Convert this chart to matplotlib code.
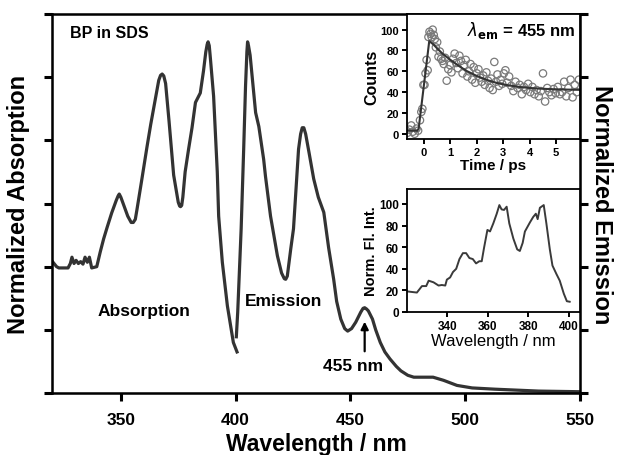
import matplotlib
matplotlib.use("Agg")
from matplotlib import pyplot as plt

plt.rcParams['font.family'] = ['Liberation Sans', 'DejaVu Sans']

# main panel: absorption (320-400 nm) and emission (400-550 nm), normalized units 0-6
abs_wl = [320, 322, 323, 327, 328, 328.7, 329.6, 330.5, 331.5, 332.5, 333.5, 334.4, 335.4,
          336.3, 337.3, 339.5, 341, 342.5, 344, 346, 348, 348.8, 349.3, 350, 351, 353, 354.5,
          355.4, 356.3, 357, 359, 361.4, 363, 365, 366.5, 367.3, 368, 368.7, 369.5, 371, 373,
          375, 375.6, 376, 376.5, 377, 378, 379.5, 381, 382.5, 384.6, 386, 387, 387.6, 388,
          388.5, 389, 390.4, 392, 392.6, 394.2, 396.4, 399, 400.6]
abs_val = [2.09, 2.0, 1.98, 1.98, 2.05, 2.15, 2.05, 2.1, 2.05, 2.08, 2.04, 2.15, 2.07,
           2.15, 1.98, 2.0, 2.23, 2.44, 2.62, 2.85, 3.05, 3.12, 3.15, 3.1, 3.0, 2.8, 2.7,
           2.7, 2.75, 2.9, 3.35, 3.9, 4.25, 4.65, 4.95, 5.03, 5.05, 5.02, 4.9, 4.3, 3.45,
           3.02, 2.96, 2.95, 2.97, 3.1, 3.5, 3.86, 4.2, 4.6, 4.75, 5.1, 5.4, 5.52, 5.56,
           5.5, 5.3, 4.7, 3.5, 2.8, 2.07, 1.38, 0.8, 0.65]

em_wl = [400.3, 400.9, 401.8, 402.4, 403.5, 404.3, 404.9, 405.2, 405.6, 406.3, 407.3, 408.7,
         410.1, 412.2, 413.0, 415.2, 418.2, 420, 421.2, 421.8, 422.5, 424, 425.2, 427.4, 428.3,
         429, 429.7, 430.5, 432, 434, 436, 438.4, 440.5, 442.7, 444, 445.8, 447.5, 448.8,
         450.5, 452.3, 454.5, 455.5, 456.2, 457, 457.8, 459.6, 461, 463, 465, 467.2, 470, 472,
         475, 477.6, 482, 486, 490.6, 496.4, 503, 513, 532, 550]
em_val = [0.89, 1.28, 2.07, 2.6, 3.86, 4.85, 5.4, 5.56, 5.5, 5.35, 4.97, 4.44,
          4.22, 3.7, 3.43, 2.8, 2.17, 1.9, 1.81, 1.8, 1.85, 2.28, 2.6, 3.86, 4.1,
          4.2, 4.2, 4.1, 3.8, 3.39, 3.1, 2.86, 2.3, 1.8, 1.45, 1.17, 1.02, 0.98,
          1.02, 1.12, 1.28, 1.34, 1.35, 1.33, 1.3, 1.17, 1.0, 0.8, 0.65, 0.54, 0.42, 0.35,
          0.28, 0.25, 0.25, 0.25, 0.2, 0.12, 0.08, 0.06, 0.03, 0.02]

# inset 1: emission decay at 455 nm
decay_t = [-0.62, -0.55, -0.48, -0.42, -0.35, -0.28, -0.22, -0.15, -0.10, -0.06,
           -0.02, 0.02, 0.06, 0.10, 0.14, 0.17, 0.21, 0.25, 0.29, 0.33,
           0.37, 0.41, 0.45, 0.50, 0.55, 0.60, 0.65, 0.70, 0.75, 0.80,
           0.86, 0.92, 0.98, 1.04, 1.10, 1.16, 1.22, 1.28, 1.34, 1.40,
           1.46, 1.52, 1.58, 1.64, 1.70, 1.76, 1.82, 1.88, 1.94, 2.00,
           2.06, 2.12, 2.18, 2.24, 2.30, 2.36, 2.42, 2.48, 2.54, 2.60,
           2.66, 2.72, 2.78, 2.84, 2.90, 2.96, 3.02, 3.08, 3.14, 3.22,
           3.30, 3.38, 3.46, 3.54, 3.62, 3.70, 3.78, 3.86, 3.94, 4.02,
           4.10, 4.18, 4.26, 4.34, 4.42, 4.50, 4.58, 4.66, 4.74, 4.82,
           4.90, 4.98, 5.06, 5.14, 5.22, 5.30, 5.38, 5.46, 5.54, 5.62,
           5.70, 5.78, 5.86]
decay_counts = [1, 4, 8, 2, 0, 5, 3, 13, 21, 24,
                47, 47, 58, 71, 61, 93, 98, 96, 93, 100,
                95, 91, 83, 88, 74, 79, 72, 70, 67, 73,
                51, 62, 66, 59, 72, 77, 68, 63, 75, 70,
                58, 66, 71, 55, 60, 67, 52, 64, 49, 58,
                62, 54, 50, 56, 47, 59, 51, 44, 53, 42,
                69, 50, 57, 46, 52, 48, 58, 61, 49, 55,
                46, 41, 50, 44, 47, 38, 45, 42, 48, 40,
                45, 38, 42, 36, 41, 58, 31, 44, 40, 37,
                43, 39, 45, 38, 40, 50, 36, 44, 52, 35,
                47, 40, 52]
fit_t = [-0.65, -0.25, -0.2, 0.2, 0.35, 0.5, 0.7, 1.0, 1.3, 1.6, 2.0, 2.4, 2.8, 3.2,
         3.6, 4.0, 4.5, 5.0, 5.5, 5.9]
fit_counts = [3, 3, 5, 89, 86, 82, 77, 71, 65.5, 60.5, 55.5, 51.5, 48.5, 46.5,
              45, 44, 43.2, 42.7, 42.4, 42.2]

# inset 2: emission spectrum
fl_wl = [320.5, 325, 327.5, 329.6, 330.8, 333.2, 335.7, 337.3, 339, 339.8, 341.4, 342.8,
         344.4, 346, 347.7, 349.3, 350.9, 352.6, 354.2, 355.8, 357, 358.1, 359.8, 361.1,
         362.7, 364.4, 365.7, 366.8, 368, 369.3, 370.6, 372.6, 374.5, 375.8, 377.2, 378.3,
         380.8, 382.4, 383.7, 384.6, 385.7, 387.6, 388.9, 390.6, 391.9, 393.9, 395.5, 397.5,
         399, 400.4]
fl_int = [19, 18, 24, 24, 29, 27.5, 24.5, 25, 24.5, 30, 32, 37,
          40, 49, 54.5, 54.5, 50, 49, 45, 47, 47, 59, 76, 74.6,
          82, 91, 99, 95, 94.5, 97.5, 82, 68, 58, 56.5, 64, 74.5,
          83, 88, 91, 86, 96.5, 99, 82, 58, 43, 35, 29, 17,
          10, 9.5]

line_col = '#333333'

fig = plt.figure(figsize=(6.21, 4.56), dpi=100)
ax = fig.add_axes([0.0837, 0.136, 0.8503, 0.831])
ax.plot(abs_wl, abs_val, color=line_col, lw=2.3, solid_joinstyle='round')
ax.plot(em_wl, em_val, color=line_col, lw=2.3, solid_joinstyle='round')
ax.set_xlim(320, 550)
ax.set_ylim(0, 6)
ax.set_xticks([350, 400, 450, 500, 550])
ax.set_yticks(range(7))
ax.tick_params(axis='y', left=True, right=True, labelleft=False, direction='out',
               length=6, width=2.2)
ax.tick_params(axis='x', direction='out', length=6, width=2.2, labelsize=12.5, pad=8)
for lab in ax.get_xticklabels():
    lab.set_fontweight('bold')
for sp in ax.spines.values():
    sp.set_linewidth(1.8)
ax.set_xlabel('Wavelength / nm', fontsize=16.5, fontweight='bold', labelpad=3)
ax.set_ylabel('Normalized Absorption', fontsize=17, fontweight='bold', labelpad=10)
ax2 = ax.twinx()
ax2.set_ylim(0, 6)
ax2.set_yticks(range(7))
ax2.tick_params(axis='y', labelright=False, direction='out', length=6, width=2.2)
ax2.set_ylabel('Normalized Emission', fontsize=17, fontweight='bold', rotation=270,
               labelpad=18)

ax.text(328, 5.7, 'BP in SDS', fontsize=11.5, fontweight='bold', va='center')
ax.text(340, 1.3, 'Absorption', fontsize=12.5, fontweight='bold', va='center')
ax.text(404, 1.47, 'Emission', fontsize=12.5, fontweight='bold', va='center')
ax.annotate('', xy=(456.2, 1.13), xytext=(456.2, 0.66),
            arrowprops=dict(arrowstyle='-|>', color='black', lw=1.6, mutation_scale=11,
                            shrinkA=0, shrinkB=0))
ax.text(451, 0.44, '455 nm', fontsize=12.5, fontweight='bold', ha='center', va='center')

# inset 1
axi = fig.add_axes([0.655, 0.693, 0.279, 0.274])
axi.scatter(decay_t, decay_counts, s=28, facecolors='none', edgecolors='#7a7a7a', lw=0.9)
axi.plot(fit_t, fit_counts, color='#333333', lw=1.5)
axi.set_xlim(-0.65, 5.9)
axi.set_ylim(-5, 115)
axi.set_xticks([0, 1, 2, 3, 4, 5])
axi.set_yticks([0, 20, 40, 60, 80, 100])
axi.tick_params(direction='out', length=3.5, width=1.4, labelsize=8, pad=2)
for lab in axi.get_xticklabels() + axi.get_yticklabels():
    lab.set_fontweight('bold')
for sp in axi.spines.values():
    sp.set_linewidth(1.3)
axi.set_xlabel('Time / ps', fontsize=11, fontweight='bold', labelpad=1)
axi.set_ylabel('Counts', fontsize=11.5, fontweight='bold', labelpad=1)
axi.text(0.97, 0.88, r'$\lambda_{\mathbf{em}}$ = 455 nm', transform=axi.transAxes,
         fontsize=12, fontweight='bold', ha='right', va='center')

# inset 2
axf = fig.add_axes([0.655, 0.3136, 0.279, 0.270])
axf.plot(fl_wl, fl_int, color='#3a3a3a', lw=1.4)
axf.set_xlim(320, 405.5)
axf.set_ylim(0, 114)
axf.set_xticks([340, 360, 380, 400])
axf.set_yticks([0, 20, 40, 60, 80, 100])
axf.tick_params(direction='out', length=3.5, width=1.4, labelsize=8.5, pad=2)
for lab in axf.get_xticklabels() + axf.get_yticklabels():
    lab.set_fontweight('bold')
for sp in axf.spines.values():
    sp.set_linewidth(1.3)
axf.set_xlabel('Wavelength / nm', fontsize=12, labelpad=1)
axf.set_ylabel('Norm. Fl. Int.', fontsize=10.5, fontweight='bold', labelpad=1)

fig.savefig('out.png', dpi=100)
